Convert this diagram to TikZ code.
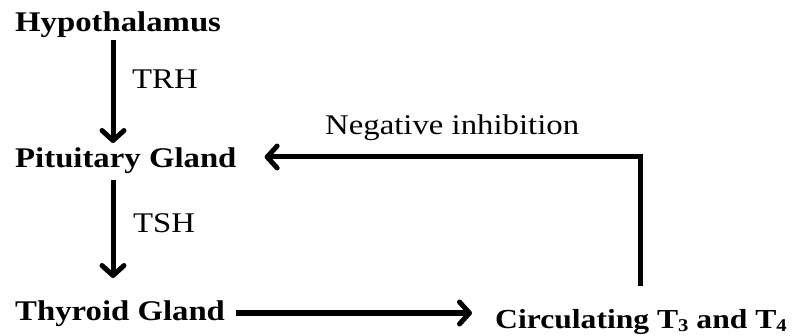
\documentclass[tikz,border=0pt]{standalone}
\usepackage{fontspec}
\setmainfont{Liberation Serif}[FakeStretch=1.15]
\usetikzlibrary{arrows.meta}
\begin{document}
\begin{tikzpicture}[x=1pt,y=-1pt,
  lbl/.style={inner sep=0pt,anchor=base west,font=\fontsize{28.5}{30}\selectfont},
  blbl/.style={inner sep=0pt,anchor=base west,font=\fontsize{28.5}{31}\selectfont\bfseries},
  arr/.style={line width=5pt,-{Straight Barb[length=10pt,width=22pt,line cap=round,line join=round]}}]
\useasboundingbox (0,0) rectangle (797,336);
\node[blbl] (hyp) at (15,32) {Hypothalamus};
\node[lbl] (trh) at (132,89) {TRH};
\node[blbl] (pit) at (15,168) {Pituitary Gland};
\node[lbl] (tsh) at (133,233) {TSH};
\node[blbl] (thy) at (15,320) {Thyroid Gland};
\node[lbl] (neg) at (325,135) {Negative inhibition};
\node[blbl,font=\fontsize{27.5}{30}\selectfont\bfseries] (cir) at (495,328) {Circulating T\raisebox{-0.12em}{\fontsize{18}{18}\selectfont 3} and T\raisebox{-0.12em}{\fontsize{18}{18}\selectfont 4}};
\draw[arr] ([yshift=-2pt]hyp.south -| 113,0) -- ([yshift=5pt]pit.north -| 113,0);
\draw[arr] ([yshift=-6pt]pit.south -| 113,0) -- ([yshift=22pt]thy.north -| 113,0);
\draw[arr] ([xshift=11pt]thy.east |- 0,313) -- ([xshift=-23pt]cir.west |- 0,313);
\draw[arr] ([yshift=23pt]cir.north -| 640,0) -- (640,157) -- ([xshift=28pt]pit.east |- 0,157);
\end{tikzpicture}
\end{document}
